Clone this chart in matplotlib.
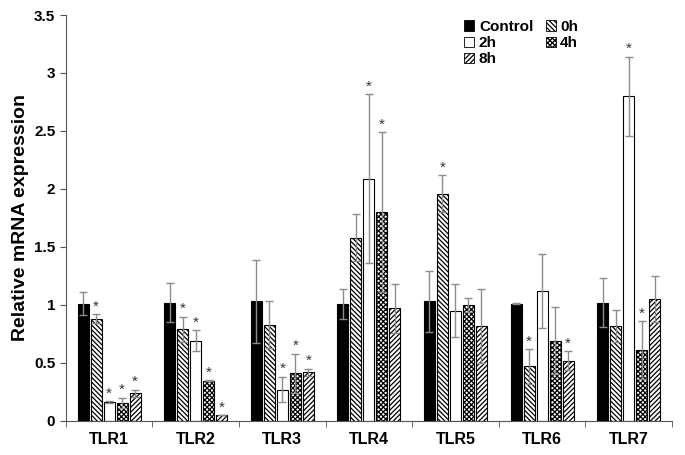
import numpy as np
import matplotlib
matplotlib.use("Agg")
import matplotlib.pyplot as plt
from matplotlib.patches import Patch

plt.rcParams['font.family'] = ['Liberation Sans', 'DejaVu Sans']
plt.rcParams['font.weight'] = 'bold'
plt.rcParams['hatch.linewidth'] = 0.9

genes = ['TLR1', 'TLR2', 'TLR3', 'TLR4', 'TLR5', 'TLR6', 'TLR7']
groups = ['Control', '0h', '2h', '4h', '8h']

control = [1.01, 1.02, 1.03, 1.01, 1.03, 1.01, 1.02]
h0 = [0.88, 0.79, 0.83, 1.58, 1.96, 0.47, 0.82]
h2 = [0.16, 0.69, 0.27, 2.09, 0.95, 1.12, 2.80]
h4 = [0.155, 0.345, 0.41, 1.80, 1.00, 0.69, 0.61]
h8 = [0.24, 0.05, 0.42, 0.97, 0.82, 0.52, 1.05]

control_err = [0.10, 0.17, 0.36, 0.13, 0.26, 0.005, 0.21]
h0_err = [0.04, 0.11, 0.20, 0.20, 0.16, 0.15, 0.14]
h2_err = [0.01, 0.09, 0.11, 0.73, 0.23, 0.32, 0.34]
h4_err = [0.045, 0.005, 0.17, 0.69, 0.06, 0.29, 0.25]
h8_err = [0.03, 0.0, 0.03, 0.21, 0.32, 0.08, 0.20]

# significance marks (1 = asterisk)
h0_sig = [1, 1, 0, 0, 1, 1, 0]
h2_sig = [1, 1, 1, 1, 0, 0, 1]
h4_sig = [1, 1, 1, 1, 0, 0, 1]
h8_sig = [1, 1, 1, 0, 0, 1, 0]
control_sig = [0, 0, 0, 0, 0, 0, 0]

values = [control, h0, h2, h4, h8]
errors = [control_err, h0_err, h2_err, h4_err, h8_err]
sigs = [control_sig, h0_sig, h2_sig, h4_sig, h8_sig]
faces = ['black', 'white', 'white', 'white', 'white']
hatches = [None, '\\\\\\\\\\\\\\', None, 'xxxxxxx', '///////']

fig = plt.figure(figsize=(6.85, 4.55), dpi=100)
ax = fig.add_axes([0.096, 0.075, 0.885, 0.892])

x = np.arange(len(genes))
pitch = 0.15
width = 0.127
handles = []
for i, g in enumerate(groups):
    pos = x + (i - 2) * pitch
    ax.bar(pos, values[i], width, color=faces[i], edgecolor='black',
           hatch=hatches[i], linewidth=0.8, zorder=2)
    ax.errorbar(pos, values[i], yerr=errors[i], fmt='none', ecolor='#8c8c8c',
                elinewidth=1.0, capsize=3, capthick=1.0, zorder=3)
    for j in range(len(genes)):
        if sigs[i][j]:
            ax.text(pos[j], values[i][j] + errors[i][j] + 0.005, '*',
                    ha='center', va='bottom', fontsize=11, color='#333333',
                    fontweight='normal')
    handles.append(Patch(facecolor=faces[i], edgecolor='black', hatch=hatches[i],
                         linewidth=0.6, label=g))

order = [0, 2, 4, 1, 3]
ax.legend([handles[k] for k in order], [groups[k] for k in order], ncol=2,
          loc='upper left', bbox_to_anchor=(0.635, 1.022), frameon=False,
          handlelength=0.65, handleheight=0.65, handletextpad=0.3,
          columnspacing=0.8, labelspacing=0.15, prop={'weight': 'bold', 'size': 11})

ax.set_xlim(-0.5, len(genes) - 0.5)
ax.set_ylim(0, 3.5)
ax.set_yticks(np.arange(0, 3.51, 0.5))
ax.set_yticklabels(['0', '0.5', '1', '1.5', '2', '2.5', '3', '3.5'])
ax.set_xticks(x)
ax.set_xticklabels(genes)
ax.set_xticks(np.arange(-0.5, len(genes)), minor=True)
ax.tick_params(axis='x', which='major', length=0, pad=8, labelsize=11.5)
ax.tick_params(axis='x', which='minor', length=4, direction='out', color='#555555')
ax.tick_params(axis='y', length=4, direction='out', labelsize=11, color='#555555')
ax.set_ylabel('Relative mRNA expression', fontsize=14, fontweight='bold')
for s in ['top', 'right']:
    ax.spines[s].set_visible(False)
for s in ['left', 'bottom']:
    ax.spines[s].set_color('#555555')
    ax.spines[s].set_linewidth(0.8)

fig.savefig('out.png', dpi=100)
